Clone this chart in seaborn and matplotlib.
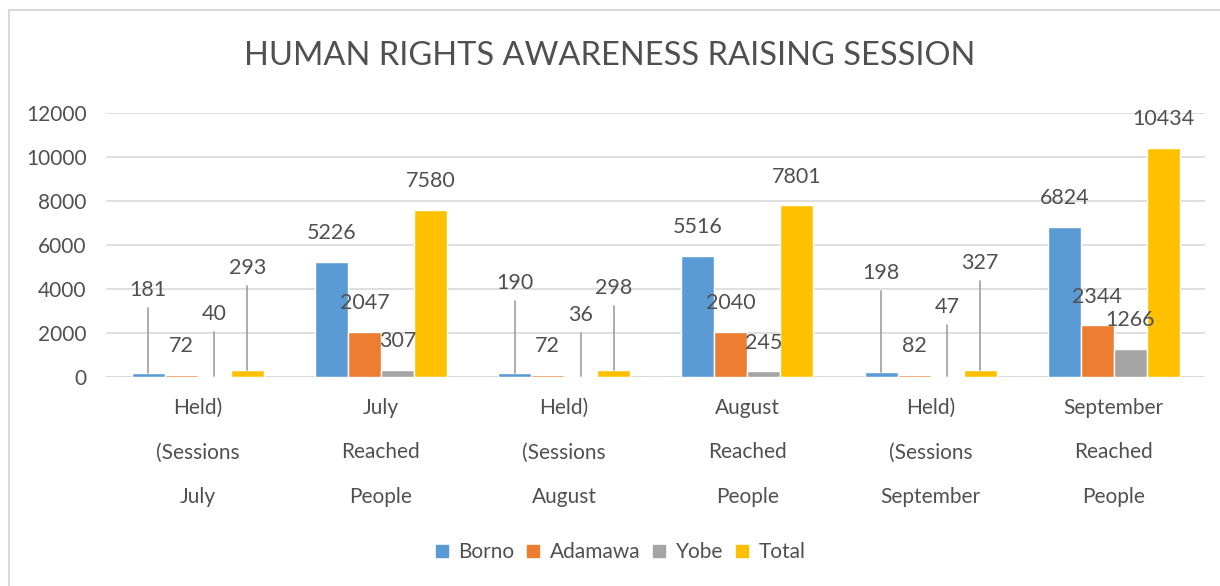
import pandas as pd
import numpy as np
import matplotlib
matplotlib.use("Agg")
import matplotlib.pyplot as plt
from matplotlib.lines import Line2D
import seaborn as sns

# chart data
categories = ["Held)\n(Sessions\nJuly", "July\nReached\nPeople",
              "Held)\n(Sessions\nAugust", "August\nReached\nPeople",
              "Held)\n(Sessions\nSeptember", "September\nReached\nPeople"]
series = ["Borno", "Adamawa", "Yobe", "Total"]
borno = [181, 5226, 190, 5516, 198, 6824]
adamawa = [72, 2047, 72, 2040, 82, 2344]
yobe = [40, 307, 36, 245, 47, 1266]
total = [293, 7580, 298, 7801, 327, 10434]

# labels that were dragged up with a leader line (data units, None = default spot)
moved_label_y = {
    "Borno": [3950, None, 4270, None, 4720, None],
    "Adamawa": [None] * 6,
    "Yobe": [2860, None, 2820, None, 3180, None],
    "Total": [4950, None, 4050, None, 5180, None],
}

colors = ["#5B9BD5", "#ED7D31", "#A5A5A5", "#FFC000"]
text_col = "#505050"

df = pd.DataFrame({
    "category": np.repeat(categories, 4),
    "series": series * len(categories),
    "value": [v for row in zip(borno, adamawa, yobe, total) for v in row],
})

sns.set_style("white")
plt.rcParams["font.family"] = ["Lato", "DejaVu Sans"]

fig = plt.figure(figsize=(12.2, 5.86), dpi=100)
ax = fig.add_axes([0.087, 0.357, 0.901, 0.45])

sns.barplot(data=df, x="category", y="value", hue="series", order=categories,
            hue_order=series, palette=colors, width=0.72, saturation=1,
            ax=ax, legend=False)

ax.set_ylim(0, 12000)
ax.set_xlim(-0.5, 5.5)
ax.set_yticks(range(0, 12001, 2000))
ax.yaxis.grid(True, color="#d9d9d9", lw=1.2)
ax.set_axisbelow(True)
for s in ax.spines.values():
    s.set_visible(False)
ax.axhline(0, color="#d9d9d9", lw=1.2, zorder=0.5)
ax.set_xlabel("")
ax.set_ylabel("")
ax.tick_params(axis="y", labelsize=15, colors=text_col, length=0, pad=14)
ax.tick_params(axis="x", labelsize=15, colors=text_col, length=0, pad=15)
ax.set_xticks(range(len(categories)))
ax.set_xticklabels(categories, linespacing=2.55, va="top")

# data labels
for container, name in zip(ax.containers, series):
    for i, bar in enumerate(container):
        val = bar.get_height()
        cx = bar.get_x() + bar.get_width() / 2
        ly = moved_label_y[name][i]
        if ly is None:
            ax.text(cx, val + 1310, f"{int(val)}", ha="center", va="center",
                    fontsize=15.5, color=text_col)
        else:
            ax.plot([cx, cx], [val, ly - 820], color="#a6a6a6", lw=1.3, zorder=3)
            ax.text(cx, ly, f"{int(val)}", ha="center", va="center",
                    fontsize=15.5, color=text_col)

fig.suptitle("HUMAN RIGHTS AWARENESS RAISING SESSION", y=0.93, fontsize=23.5,
             color=text_col)

handles = [Line2D([], [], marker="s", ls="", markersize=9, color=c) for c in colors]
fig.legend(handles, series, loc="center", bbox_to_anchor=(0.508, 0.058), ncol=4,
           frameon=False, fontsize=15, handlelength=0.8, handletextpad=0.4,
           columnspacing=0.5, labelcolor=text_col)

# outer chart border (left and top are visible)
fig.add_artist(Line2D([9 / 1220, 9 / 1220], [0, 1 - 10 / 586], color="#d9d9d9", lw=1.5))
fig.add_artist(Line2D([9 / 1220, 1], [1 - 10 / 586, 1 - 10 / 586], color="#d9d9d9", lw=1.5))

fig.savefig("out.png", dpi=100)
